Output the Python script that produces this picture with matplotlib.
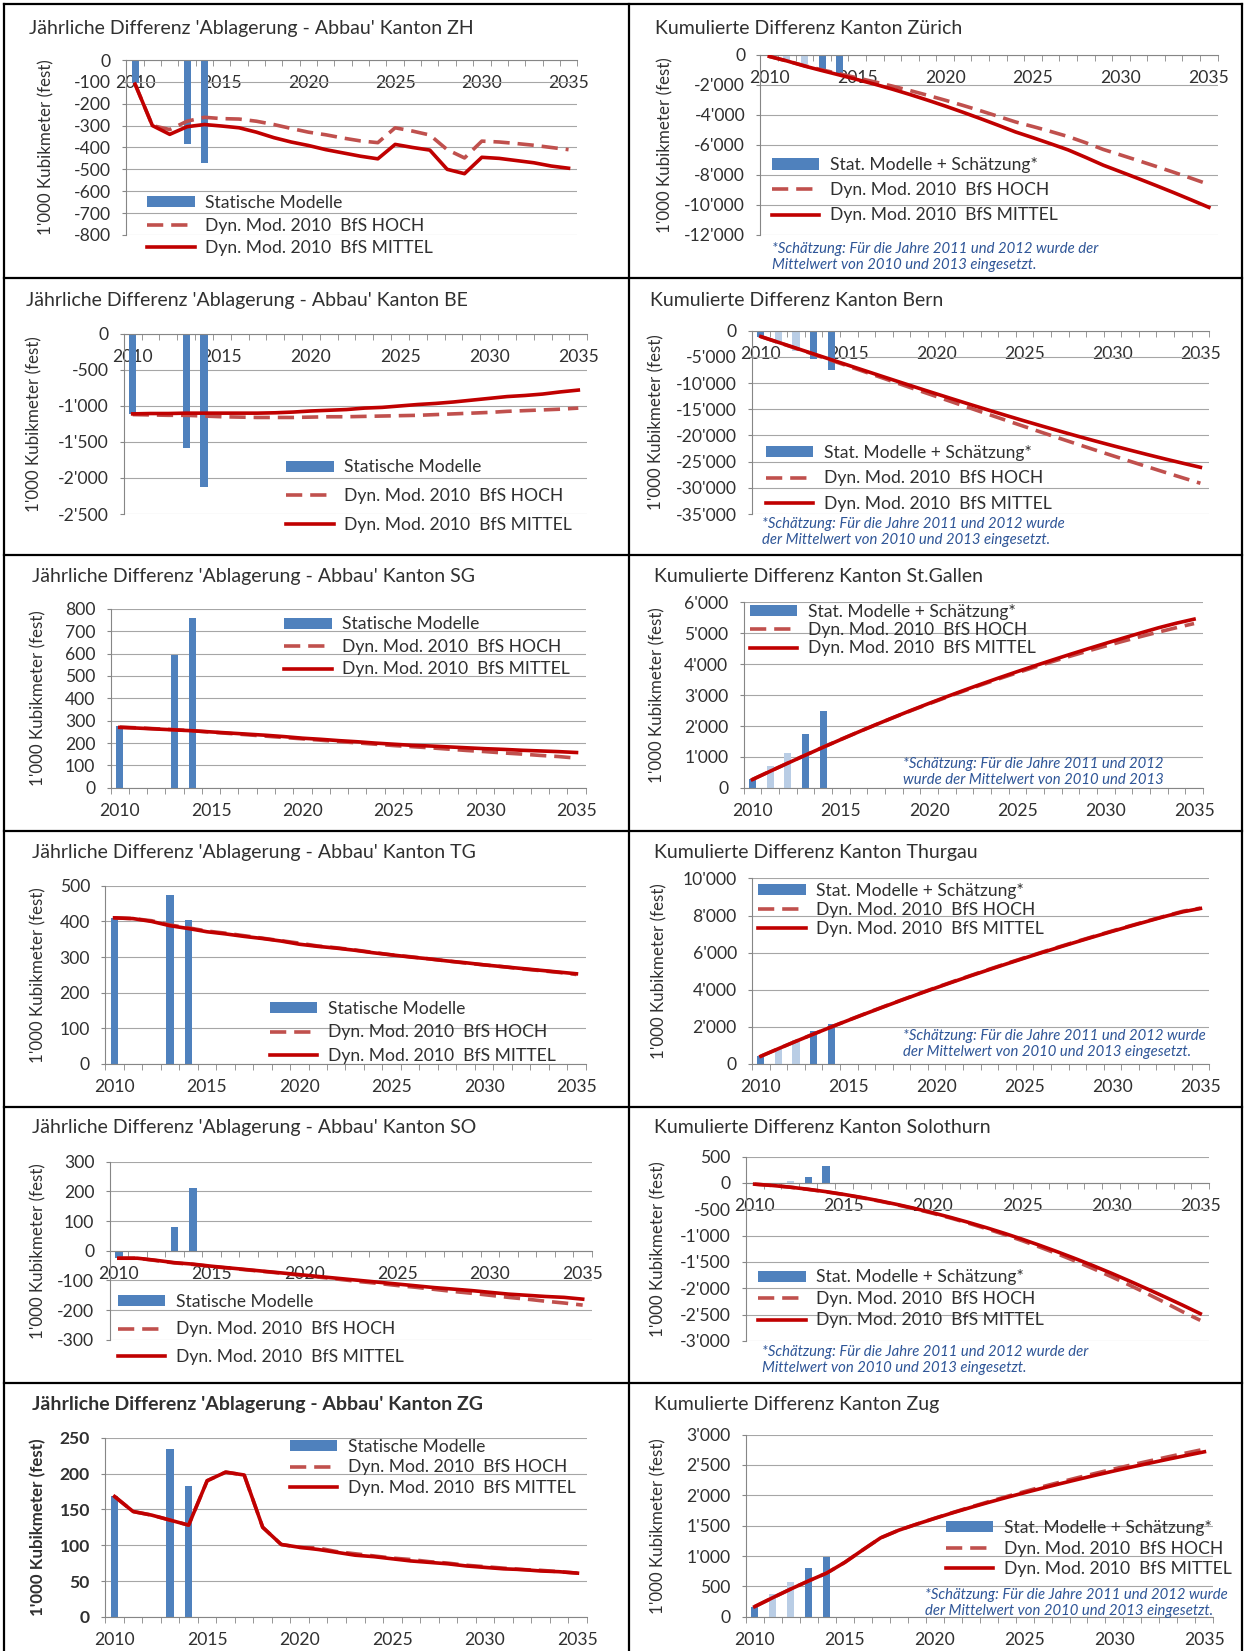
"""
Annual and cumulative difference 'Ablagerung - Abbau' for six cantons,
static models vs. dynamic model 2010 (BfS HOCH / MITTEL).
"""

import numpy as np
import matplotlib.pyplot as plt
from matplotlib.patches import Patch
from matplotlib.lines import Line2D
from matplotlib.ticker import FuncFormatter, MultipleLocator

plt.rcParams['font.family'] = ['Lato', 'DejaVu Sans']

W, H = 1245, 1651
S = 1245 / 1182          # layout numbers below are given on a 1182 px grid

YEARS = np.arange(2010, 2036)
STAT_YEARS = [2010, 2013, 2014]
CUM_YEARS = [2010, 2011, 2012, 2013, 2014]

# --- Zürich
ZH_STAT = [-105, -386, -470]
ZH_HOCH = [-110, -300, -318, -280, -262, -268, -270, -280, -295, -313, -330, -342, -357, -370, -378,
           -310, -325, -343, -410, -448, -371, -375, -382, -390, -400, -410]
ZH_MITTEL = [-110, -300, -340, -305, -295, -302, -310, -330, -355, -375, -391, -410, -425, -440, -452,
             -386, -400, -412, -500, -520, -445, -450, -460, -470, -485, -495]
ZH_CUM_STAT = [-105, -350, -595, -980, -1200]
ZH_CUM_HOCH = [-110, -410, -728, -1008, -1270, -1538, -1808, -2088, -2383, -2696, -3026, -3368, -3725,
               -4095, -4473, -4783, -5108, -5451, -5861, -6309, -6680, -7055, -7437, -7827, -8227, -8637]
ZH_CUM_MITTEL = [-110, -410, -750, -1055, -1350, -1652, -1962, -2292, -2647, -3022, -3413, -3823, -4248,
                 -4688, -5140, -5526, -5926, -6338, -6838, -7358, -7803, -8253, -8713, -9183, -9668, -10163]

# --- Bern
BE_STAT = [-1114, -1584, -2124]
BE_HOCH = [-1120, -1125, -1130, -1130, -1140, -1150, -1155, -1160, -1160, -1160, -1155, -1150, -1150,
           -1145, -1140, -1135, -1130, -1120, -1110, -1100, -1090, -1075, -1065, -1055, -1045, -1030]
BE_MITTEL = [-1110, -1105, -1105, -1100, -1100, -1100, -1100, -1100, -1095, -1085, -1070, -1060, -1050,
             -1030, -1020, -1000, -980, -965, -945, -920, -895, -870, -855, -835, -805, -780]
BE_CUM_STAT = [-1114, -2463, -3812, -5396, -7520]
BE_CUM_HOCH = [-1120, -2245, -3375, -4505, -5645, -6795, -7950, -9110, -10270, -11430, -12585, -13735,
               -14885, -16030, -17170, -18305, -19435, -20555, -21665, -22765, -23855, -24930, -25995,
               -27050, -28095, -29125]
BE_CUM_MITTEL = [-1110, -2215, -3320, -4420, -5520, -6620, -7720, -8820, -9915, -11000, -12070, -13130,
                 -14180, -15210, -16230, -17230, -18210, -19175, -20120, -21040, -21935, -22805,
                 -23660, -24495, -25300, -26080]

# --- St. Gallen
SG_STAT = [276, 592, 757]
SG_HOCH = [272, 268, 264, 260, 255, 249, 243, 237, 231, 225, 219, 213, 207, 201, 195, 189, 184, 179,
           173, 167, 162, 156, 151, 145, 140, 133]
SG_MITTEL = [270, 267, 263, 259, 255, 250, 245, 240, 235, 229, 222, 217, 211, 206, 200, 195, 190, 187,
             183, 179, 175, 172, 168, 165, 162, 158]
SG_CUM_STAT = [276, 710, 1144, 1736, 2493]
SG_CUM_HOCH = [272, 540, 804, 1064, 1319, 1568, 1811, 2048, 2279, 2504, 2723, 2936, 3143, 3344, 3539,
               3728, 3912, 4091, 4264, 4431, 4593, 4749, 4900, 5045, 5185, 5318]
SG_CUM_MITTEL = [270, 537, 800, 1059, 1314, 1564, 1809, 2049, 2284, 2513, 2735, 2952, 3163, 3369, 3569,
                 3764, 3954, 4141, 4324, 4503, 4678, 4850, 5018, 5183, 5330, 5460]

# --- Thurgau
TG_STAT = [411, 473, 405]
TG_HOCH = [410, 408, 402, 390, 382, 373, 367, 360, 353, 346, 339, 331, 326, 320, 313, 306, 301, 295,
           289, 283, 278, 273, 267, 262, 257, 251]
TG_MITTEL = [410, 408, 400, 388, 380, 371, 365, 358, 352, 345, 336, 330, 325, 319, 312, 306, 300, 295,
             289, 284, 278, 273, 268, 263, 258, 253]
TG_CUM_STAT = [411, 853, 1295, 1768, 2173]
TG_CUM_HOCH = [410, 818, 1220, 1610, 1992, 2365, 2732, 3092, 3445, 3791, 4130, 4461, 4787, 5107, 5420,
               5726, 6027, 6322, 6611, 6894, 7172, 7445, 7712, 7974, 8231, 8400]
TG_CUM_MITTEL = [410, 818, 1218, 1606, 1986, 2357, 2722, 3080, 3432, 3777, 4113, 4443, 4768, 5087,
                 5399, 5705, 6005, 6300, 6589, 6873, 7151, 7424, 7692, 7955, 8200, 8380]

# --- Solothurn
SO_STAT = [-25, 79, 213]
SO_HOCH = [-25, -25, -33, -41, -46, -53, -59, -65, -71, -77, -84, -90, -97, -104, -110, -117, -123,
           -130, -137, -143, -150, -157, -163, -170, -176, -183]
SO_MITTEL = [-25, -25, -32, -40, -45, -52, -58, -64, -70, -76, -82, -88, -94, -100, -106, -112, -118,
             -124, -129, -134, -140, -146, -150, -154, -157, -163]
SO_CUM_STAT = [-25, 2, 29, 108, 321]
SO_CUM_HOCH = [-25, -50, -83, -124, -170, -223, -282, -347, -418, -495, -579, -669, -766, -870, -980,
               -1097, -1220, -1350, -1487, -1630, -1780, -1937, -2100, -2270, -2446, -2610]
SO_CUM_MITTEL = [-25, -50, -82, -122, -167, -219, -277, -341, -411, -487, -569, -657, -751, -851, -957,
                 -1069, -1187, -1311, -1440, -1574, -1714, -1860, -2010, -2164, -2321, -2484]

# --- Zug
ZG_STAT = [168, 234, 182]
ZG_HOCH = [168, 147, 142, 135, 128, 190, 202, 198, 125, 101, 97, 96, 91, 88, 85, 82, 80, 77, 75, 72,
           70, 68, 66, 65, 63, 61]
ZG_MITTEL = [168, 147, 142, 135, 128, 190, 202, 198, 125, 101, 97, 94, 90, 86, 84, 81, 78, 76, 74, 71,
             69, 67, 66, 64, 63, 61]
ZG_CUM_STAT = [168, 369, 570, 804, 986]
ZG_CUM_HOCH = [168, 315, 457, 592, 720, 895, 1100, 1300, 1425, 1525, 1622, 1716, 1807, 1895, 1980,
               2062, 2142, 2219, 2294, 2366, 2436, 2504, 2570, 2635, 2698, 2760]
ZG_CUM_MITTEL = [168, 315, 457, 592, 720, 895, 1100, 1300, 1425, 1525, 1620, 1712, 1800, 1884, 1965,
                 2043, 2119, 2193, 2265, 2335, 2403, 2469, 2533, 2596, 2657, 2717]

LABELS_ANNUAL = ["Statische Modelle", "Dyn. Mod. 2010  BfS HOCH", "Dyn. Mod. 2010  BfS MITTEL"]
LABELS_CUM = ["Stat. Modelle + Schätzung*", "Dyn. Mod. 2010  BfS HOCH", "Dyn. Mod. 2010  BfS MITTEL"]
NOTE_A = "*Schätzung: Für die Jahre 2011 und 2012 wurde der\nMittelwert von 2010 und 2013 eingesetzt."
NOTE_B = "*Schätzung: Für die Jahre 2011 und 2012 wurde\nder Mittelwert von 2010 und 2013 eingesetzt."
NOTE_C = "*Schätzung: Für die Jahre 2011 und 2012\nwurde der Mittelwert von 2010 und 2013"
YLABEL = "1'000 Kubikmeter (fest)"
TITLE_A = "Jährliche Differenz 'Ablagerung - Abbau' Kanton {}"
TITLE_C = "Kumulierte Differenz Kanton {}"

DARK = '#4F81BD'
LIGHT = '#B9CDE5'
HOCH_C = '#C0504D'
MITTEL_C = '#C00000'
NOTE_COL = '#2E5597'
TXT = '#303030'
FS = 12.6          # tick and legend text
FS_TITLE = 14
FS_YLABEL = 12.2
FS_NOTE = 10.7
LW = 2.6
DASH = (0, (4.5, 2.2))

# layout: axes box (left, top, right, bottom), title pos, ylabel x, legend (x, y of first row, step), note pos
PANELS = [
    dict(title=TITLE_A.format("ZH"), stat=ZH_STAT, hoch=ZH_HOCH, mittel=ZH_MITTEL, cum=False,
         ylim=(-800, 0), step=100, box=(120, 57, 548, 223), tpos=(28, 27), ylx=45, leg=(140, 190, 22)),
    dict(title=TITLE_C.format("Zürich"), stat=ZH_CUM_STAT, hoch=ZH_CUM_HOCH, mittel=ZH_CUM_MITTEL, cum=True,
         ylim=(-12000, 0), step=2000, box=(722, 52, 1156, 223), tpos=(622, 27), ylx=632,
         leg=(733, 154, 24.5), note=(NOTE_A, 733, 244)),
    dict(title=TITLE_A.format("BE"), stat=BE_STAT, hoch=BE_HOCH, mittel=BE_MITTEL, cum=False,
         ylim=(-2500, 0), step=500, box=(117.5, 317, 557.5, 488), tpos=(25, 285), ylx=33, leg=(272, 441, 28)),
    dict(title=TITLE_C.format("Bern"), stat=BE_CUM_STAT, hoch=BE_CUM_HOCH, mittel=BE_CUM_MITTEL, cum=True,
         ylim=(-35000, 0), step=5000, box=(714, 314, 1148, 488), tpos=(617, 285), ylx=624,
         leg=(727, 427, 25), note=(NOTE_B, 723, 505)),
    dict(title=TITLE_A.format("SG"), stat=SG_STAT, hoch=SG_HOCH, mittel=SG_MITTEL, cum=False,
         ylim=(0, 800), step=100, box=(105, 578, 556, 748), tpos=(30, 547), ylx=37, leg=(270, 590, 22)),
    dict(title=TITLE_C.format("St.Gallen"), stat=SG_CUM_STAT, hoch=SG_CUM_HOCH, mittel=SG_CUM_MITTEL,
         cum=True, ylim=(0, 6000), step=1000, box=(706, 572, 1142, 748), tpos=(621, 547), ylx=625,
         leg=(712, 578, 18), note=(NOTE_C, 857, 733)),
    dict(title=TITLE_A.format("TG"), stat=TG_STAT, hoch=TG_HOCH, mittel=TG_MITTEL, cum=False,
         ylim=(0, 500), step=100, box=(100, 841, 556, 1010), tpos=(30, 809), ylx=37, leg=(256, 955, 23)),
    dict(title=TITLE_C.format("Thurgau"), stat=TG_CUM_STAT, hoch=TG_CUM_HOCH, mittel=TG_CUM_MITTEL,
         cum=True, ylim=(0, 10000), step=2000, box=(714, 834, 1148, 1010), tpos=(621, 809), ylx=627,
         leg=(720, 843, 18.5), note=(NOTE_B, 857, 991)),
    dict(title=TITLE_A.format("SO"), stat=SO_STAT, hoch=SO_HOCH, mittel=SO_MITTEL, cum=False,
         ylim=(-300, 300), step=100, box=(104, 1103, 562, 1272), tpos=(30, 1070), ylx=37,
         leg=(112, 1233, 27)),
    dict(title=TITLE_C.format("Solothurn"), stat=SO_CUM_STAT, hoch=SO_CUM_HOCH, mittel=SO_CUM_MITTEL,
         cum=True, ylim=(-3000, 500), step=500, box=(708, 1098, 1148, 1273), tpos=(621, 1070), ylx=626,
         leg=(720, 1210, 21), note=(NOTE_A, 723, 1291)),
    dict(title=TITLE_A.format("ZG"), stat=ZG_STAT, hoch=ZG_HOCH, mittel=ZG_MITTEL, cum=False,
         ylim=(0, 250), step=50, box=(100, 1365, 557, 1535), tpos=(30, 1333), ylx=37,
         leg=(275, 1371, 20), bold=True),
    dict(title=TITLE_C.format("Zug"), stat=ZG_CUM_STAT, hoch=ZG_CUM_HOCH, mittel=ZG_CUM_MITTEL, cum=True,
         ylim=(0, 3000), step=500, box=(708, 1362, 1152, 1535), tpos=(621, 1333), ylx=626,
         leg=(898, 1448, 20), note=(NOTE_B, 878, 1522)),
]


def fx(x):
    return x * S / W


def fy(y):
    return 1 - y * S / H


def swiss(v, pos):
    return f"{int(round(v)):,}".replace(",", "'")


fig = plt.figure(figsize=(W / 100, H / 100), dpi=100)
fs_px = FS * 100 / 72 / S          # legend font size on the layout grid

for p in PANELS:
    l, t, r, b = p['box']
    ax = fig.add_axes([fx(l), fy(b), fx(r) - fx(l), fy(t) - fy(b)])
    weight = 'bold' if p.get('bold') else 'normal'

    if p['cum']:
        ax.bar(CUM_YEARS, p['stat'], width=0.4, color=[DARK, LIGHT, LIGHT, DARK, DARK], zorder=2)
    else:
        ax.bar(STAT_YEARS, p['stat'], width=0.4, color=DARK, zorder=2)
    ax.plot(YEARS, p['hoch'], color=HOCH_C, lw=LW, ls=DASH, zorder=3)
    ax.plot(YEARS, p['mittel'], color=MITTEL_C, lw=LW, zorder=4)

    ax.set_xlim(2009.5, 2035.5)
    ax.set_ylim(*p['ylim'])
    ax.yaxis.set_major_locator(MultipleLocator(p['step']))
    ax.yaxis.set_major_formatter(FuncFormatter(swiss))
    ax.set_xticks(np.arange(2010, 2036, 5))
    ax.set_xticks(np.arange(2009.5, 2036, 1), minor=True)
    ax.tick_params(axis='x', which='major', length=0, pad=11, labelsize=FS, labelcolor=TXT)
    ax.tick_params(axis='x', which='minor', length=4, color='#868686', direction='out')
    ax.tick_params(axis='y', length=3, color='#868686', pad=8, labelsize=FS, labelcolor=TXT)
    for lab in ax.get_xticklabels() + ax.get_yticklabels():
        lab.set_fontweight(weight)

    for side in ('top', 'right'):
        ax.spines[side].set_visible(False)
    ax.spines['left'].set_color('#868686')
    ax.spines['bottom'].set_color('#868686')
    ax.spines['bottom'].set_position(('data', 0))
    ax.yaxis.grid(True, color='#A6A6A6', lw=0.8)
    ax.set_axisbelow(True)

    ax.set_ylabel(YLABEL, fontsize=FS_YLABEL, color=TXT, fontweight=weight)
    ax.yaxis.set_label_coords((p['ylx'] + 7 - l) / (r - l), 0.5)

    fig.text(fx(p['tpos'][0]), fy(p['tpos'][1]), p['title'], fontsize=FS_TITLE, color=TXT,
             ha='left', va='center', fontweight=weight)

    handles = [Patch(facecolor=DARK, edgecolor='none'),
               Line2D([], [], color=HOCH_C, lw=LW, ls=DASH),
               Line2D([], [], color=MITTEL_C, lw=LW)]
    lx, ly, lstep = p['leg']
    ax.legend(handles, LABELS_CUM if p['cum'] else LABELS_ANNUAL,
              loc='upper left', bbox_to_anchor=(fx(lx), fy(ly - 0.29 * fs_px)),
              bbox_transform=fig.transFigure, frameon=False, fontsize=FS,
              handlelength=45 / fs_px, handleheight=0.6, handletextpad=10 / fs_px,
              labelspacing=(lstep - 0.95 * fs_px) / fs_px, borderpad=0, borderaxespad=0,
              labelcolor=TXT)

    if 'note' in p:
        text, nx, ny = p['note']
        fig.text(fx(nx), fy(ny), text, fontsize=FS_NOTE, style='italic', color=NOTE_COL,
                 ha='left', va='center', linespacing=1.2)

# cell borders
for xs, ys in [((4, 1242), (4, 4)), ((4, 4), (4, 1651)), ((1242, 1242), (4, 1651)),
               ((629, 629), (4, 1651))] + [((4, 1242), (y, y)) for y in (278, 555, 831, 1107, 1383)]:
    fig.add_artist(Line2D([x / W for x in xs], [1 - y / H for y in ys],
                          transform=fig.transFigure, color='black', lw=1.6))

fig.savefig("out.png", dpi=100)
